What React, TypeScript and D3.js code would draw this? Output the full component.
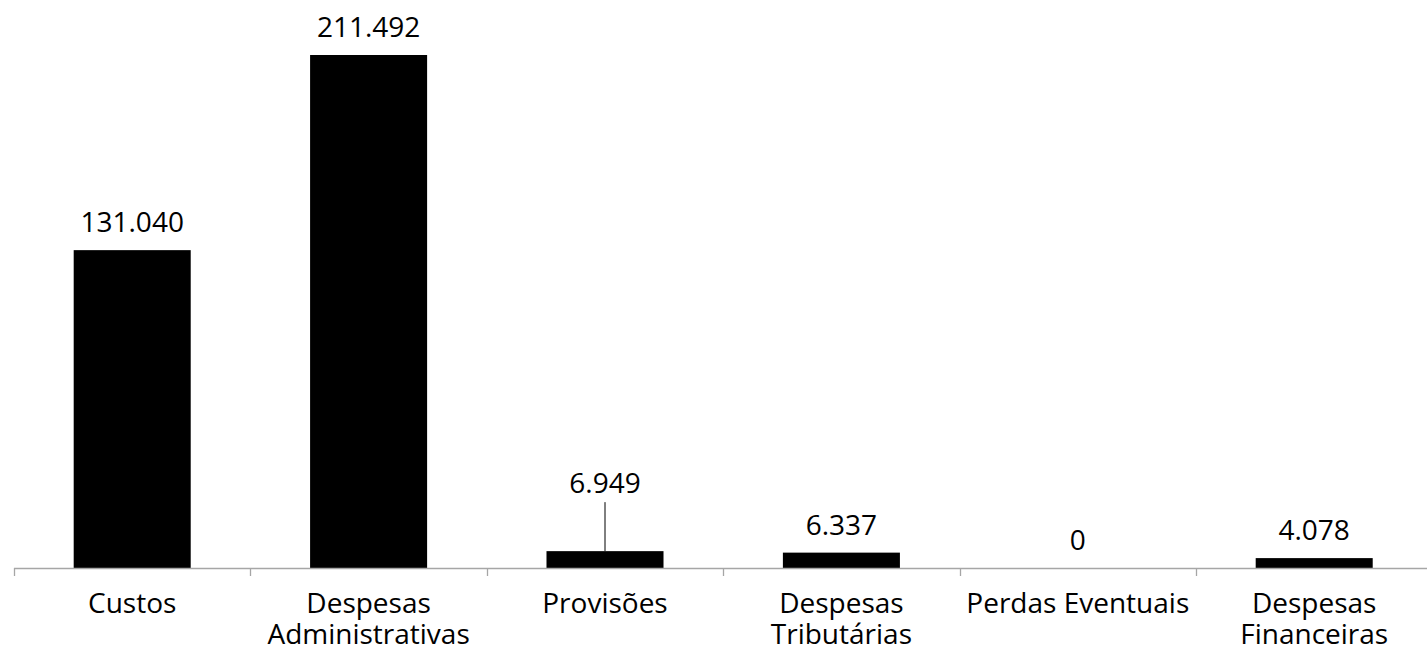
import { useEffect, useRef } from "react";
import * as d3 from "d3";

const categories = [
  ["Custos"],
  ["Despesas", "Administrativas"],
  ["Provisões"],
  ["Despesas", "Tributárias"],
  ["Perdas Eventuais"],
  ["Despesas", "Financeiras"],
];
const values = [131.04, 211.492, 6.949, 6.337, 0, 4.078];
const valueLabels = ["131.040", "211.492", "6.949", "6.337", "0", "4.078"];

const WIDTH = 1427;
const HEIGHT = 648;
const FONT = "'Open Sans', sans-serif";

export default function App() {
  const svgRef = useRef<SVGSVGElement>(null);

  useEffect(() => {
    if (!svgRef.current) return;
    document.body.style.margin = "0";

    const baseline = 568;
    const svg = d3.select(svgRef.current);
    svg.selectAll("*").remove();

    const keys = categories.map((_, i) => String(i));
    const xScale = d3.scaleBand<string>()
      .domain(keys)
      .range([14, 14 + 236.4 * 6])
      .paddingInner(0)
      .paddingOuter(0);

    const yScale = d3.scaleLinear()
      .domain([0, 211.492])
      .range([baseline, 55]);

    const bw = xScale.bandwidth();
    const barW = bw * 0.495;

    // bars
    svg.append("g")
      .selectAll("rect")
      .data(values)
      .join("rect")
      .attr("x", (_, i) => xScale(String(i))! + (bw - barW) / 2)
      .attr("y", d => yScale(d))
      .attr("width", barW)
      .attr("height", d => baseline - yScale(d))
      .attr("fill", "#000");

    // axis line + ticks
    const axis = svg.append("g");
    axis.append("line")
      .attr("x1", 14).attr("x2", WIDTH)
      .attr("y1", baseline + 0.5).attr("y2", baseline + 0.5)
      .attr("stroke", "#a6a6a6").attr("stroke-width", 1.3);
    keys.forEach(k => {
      const x = Math.round(xScale(k)!) + 0.5;
      axis.append("line")
        .attr("x1", x).attr("x2", x)
        .attr("y1", baseline).attr("y2", baseline + 8)
        .attr("stroke", "#a6a6a6").attr("stroke-width", 1.3);
    });

    // value labels (Provisões label lifted with a leader line)
    const liftIndex = 2;
    const lift = 40;
    values.forEach((v, i) => {
      const cx = xScale(String(i))! + bw / 2;
      const top = yScale(v);
      const dy = i === liftIndex ? lift : 0;
      svg.append("text")
        .attr("x", cx)
        .attr("y", top - 18 - dy)
        .attr("text-anchor", "middle")
        .attr("font-family", FONT)
        .attr("font-size", 28)
        .attr("fill", "#000")
        .text(valueLabels[i]);
      if (dy > 0) {
        svg.append("line")
          .attr("x1", cx).attr("x2", cx)
          .attr("y1", top - 49).attr("y2", top)
          .attr("stroke", "#000").attr("stroke-width", 1);
      }
    });

    // category labels
    categories.forEach((lines, i) => {
      const cx = xScale(String(i))! + bw / 2;
      const t = svg.append("text")
        .attr("text-anchor", "middle")
        .attr("font-family", FONT)
        .attr("font-size", 28)
        .attr("fill", "#000");
      lines.forEach((line, j) => {
        t.append("tspan")
          .attr("x", cx)
          .attr("y", 613 + j * 31)
          .text(line);
      });
    });
  }, []);

  return (
    <svg
      ref={svgRef}
      width={WIDTH}
      height={HEIGHT}
      style={{ display: "block", background: "#fff" }}
    />
  );
}
